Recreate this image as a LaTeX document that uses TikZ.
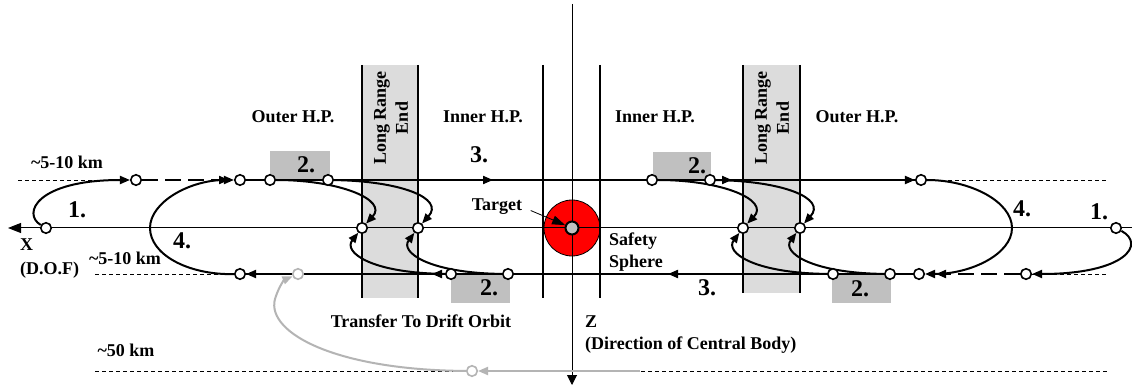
\documentclass[tikz,border=0pt]{standalone}
\usepackage{fontspec}
\setmainfont{Liberation Serif}
\usetikzlibrary{arrows.meta}
\pgfdeclarelayer{back}
\pgfdeclarelayer{mid}
\pgfsetlayers{back,mid,main}
\definecolor{bandgray}{HTML}{DCDCDC}
\definecolor{boxgray}{HTML}{C0C0C0}
\definecolor{driftgray}{HTML}{B4B4B4}
\definecolor{sphered}{HTML}{FF0000}
\begin{document}
\begin{tikzpicture}[x=1pt,y=-1pt,
  lbl/.style={font=\bfseries\fontsize{18}{22}\selectfont, inner sep=0pt, align=center},
  num/.style={font=\bfseries\fontsize{24}{26}\selectfont, inner sep=0pt},
  pt/.style={circle, draw=black, fill=white, line width=1.6pt, minimum size=10.5pt, inner sep=0pt},
  gpt/.style={pt, draw=driftgray},
  orbit/.style={line width=2pt},
  head/.style={-{Triangle[length=10pt,width=8pt]}},
  longdash/.style={orbit, dash pattern=on 16pt off 7pt},
  guide/.style={line width=0.9pt, dash pattern=on 4pt off 3pt},
  axisline/.style={line width=1pt},
  zone/.style={line width=1.2pt},
]
\useasboundingbox (0,0) rectangle (1132,387);

% maneuver points on the upper line
\node[pt] (t1) at (136,180) {};
\node[pt] (t2) at (240,180) {};
\node[pt] (t3) at (270,180) {};
\node[pt] (t4) at (328,180) {};
\node[pt] (t5) at (652,180) {};
\node[pt] (t6) at (710,180) {};
\node[pt] (t7) at (921,180) {};
% points on the X axis
\node[pt] (a1) at (46,228) {};
\node[pt] (a2) at (362,228) {};
\node[pt] (a3) at (418,228) {};
\node[pt] (a4) at (743,228) {};
\node[pt] (a5) at (800,228) {};
\node[pt] (a6) at (1116,228) {};
% points on the lower line
\node[pt] (b1) at (240,274) {};
\node[gpt] (bg) at (298,274) {};
\node[pt] (b2) at (451,274) {};
\node[pt] (b3) at (508,274) {};
\node[pt] (b4) at (833,274) {};
\node[pt] (b5) at (890,274) {};
\node[pt] (b6) at (919,274) {};
\node[pt] (b7) at (1026,274) {};
% drift orbit point
\node[gpt] (g1) at (472,371) {};

% target
\node[circle, draw=black, line width=2pt, minimum size=13pt, inner sep=0pt, fill=boxgray] (target) at (572,228) {};

\begin{pgfonlayer}{back}
  \fill[white] (0,0) rectangle (1132,387);
  % long range end zones
  \fill[bandgray] (362,65) rectangle (418,298);
  \fill[bandgray] (743,65) rectangle (800,293);
  % hold point boxes
  \fill[boxgray] (270,151) rectangle (330,180);
  \fill[boxgray] (451,275) rectangle (510,303);
  \fill[boxgray] (653,152) rectangle (711,180);
  \fill[boxgray] (832,275) rectangle (891,303);
  \node[circle, fill=sphered, draw=black, line width=0.8pt, minimum size=56pt, inner sep=0pt] (sphere) at (572,228) {};
\end{pgfonlayer}

\begin{pgfonlayer}{mid}
  % zone boundaries
  \foreach \x/\b in {362/298, 418/298, 543/298, 600/298, 743/293, 800/293}
    \draw[zone] (\x,65) -- (\x,\b);
  % axes
  \coordinate (xr) at (1132,228);
  \coordinate (xl) at (8,228);
  \draw[axisline, -{Triangle[length=13pt,width=10pt]}] (xr) -- (xl);
  \coordinate (ztop) at (572,4);
  \coordinate (zbot) at (572,385);
  \draw[axisline, -{Triangle[length=10pt,width=10pt]}] (ztop) -- (zbot);
  % altitude guides
  \coordinate (gl1) at (18,180);
  \coordinate (gr1) at (1107,180);
  \coordinate (gl2) at (95,274);
  \coordinate (gr2) at (1107,274);
  \coordinate (gl3) at (95,371);
  \coordinate (gr3) at (1107,371);
  \draw[guide] (gl1) -- (t1);
  \draw[guide] (t7) -- (gr1);
  \draw[guide] (gl2) -- (b1);
  \draw[guide] (b7) -- (gr2);
  \draw[guide] (gl3) -- (gr3);

  % upper line
  \coordinate (m1) at (493,180);
  \coordinate (m2) at (732,180);
  \draw[orbit] (t2) -- (t7);
  \draw[orbit, head] (t4) -- (m1);
  \draw[orbit, head] (t6) -- (m2);
  \draw[orbit, head] (t6) -- (t7);
  \coordinate (m5) at (229,180);
  \draw[longdash, head] (t1) -- (m5);

  % lower line
  \coordinate (m3) at (432,274);
  \coordinate (m4) at (668,274);
  \draw[orbit] (b6) -- (b1);
  \draw[orbit, head] (b2) -- (b1);
  \draw[orbit, head] (b2) -- (m3);
  \draw[orbit, head] (b4) -- (m4);
  \coordinate (m6) at (936,274);
  \draw[longdash, head] (b7) -- (m6);

  % 1. arrivals
  \draw[orbit, head] (a1) .. controls (22,214) and (36,180) .. (t1);
  \draw[orbit, head] (a6) .. controls (1146,244) and (1126,274) .. (b7);

  % 4. loops
  \draw[orbit, head] (b1) .. controls (187,275) and (150,254) .. (150,228)
                          .. controls (150,202) and (190,180) .. (t2);
  \draw[orbit, head] (t7) .. controls (971,180) and (1012,202) .. (1012,228)
                          .. controls (1012,254) and (971,274) .. (b6);

  % 2. hops onto the long range end
  \draw[orbit, head] (t3) .. controls (340,180) and (388,200) .. (a2);
  \draw[orbit, head] (t4) .. controls (400,181) and (445,198) .. (a3);
  \draw[orbit, head] (b2) .. controls (370,273) and (343,252) .. (a2);
  \draw[orbit, head] (b3) .. controls (428,273) and (400,252) .. (a3);
  \draw[orbit, head] (t5) .. controls (722,180) and (770,200) .. (a4);
  \draw[orbit, head] (t6) .. controls (782,181) and (827,198) .. (a5);
  \draw[orbit, head] (b4) .. controls (752,273) and (725,252) .. (a4);
  \draw[orbit, head] (b5) .. controls (810,273) and (782,252) .. (a5);

  % transfer to drift orbit
  \coordinate (gend) at (640,371);
  \draw[orbit, driftgray, head] (gend) -- (g1);
  \draw[orbit, driftgray, head] (g1) .. controls (330,370) and (262,330) .. (276,296)
                                     .. controls (279,287) and (284,280) .. (bg);
\end{pgfonlayer}

% labels
\node[lbl] (ohpl) at (293,117) {Outer H.P.};
\node[lbl] (ihpl) at (483,117) {Inner H.P.};
\node[lbl] (ihpr) at (655,117) {Inner H.P.};
\node[lbl] (ohpr) at (857,117) {Outer H.P.};
\node[lbl, rotate=90] (lrel) at (391,118) {Long Range\\End};
\node[lbl, rotate=90] (lrer) at (772,118) {Long Range\\End};

\node[num] (n2a) at (306,165) {2.};
\node[num] (n2b) at (697,166) {2.};
\node[num] (n2c) at (489,288) {2.};
\node[num] (n2d) at (860,289) {2.};
\node[num] (n3a) at (479,155) {3.};
\node[num] (n3b) at (707,288) {3.};
\node[num] (n1a) at (77,210) {1.};
\node[num] (n1b) at (1099,212) {1.};
\node[num] (n4a) at (182,241) {4.};
\node[num] (n4b) at (1022,209) {4.};

\node[lbl] (km1) at (67,162) {\textasciitilde5-10 km};
\node[lbl] (km2) at (125,258) {\textasciitilde5-10 km};
\node[lbl] (km3) at (126,350) {\textasciitilde50 km};
\node[lbl, anchor=west] (xlab) at (20,245) {X};
\node[lbl, anchor=west] (dof) at (20,270) {(D.O.F)};
\node[lbl] (tlabel) at (497,207) {Target};
\node[lbl, align=left, anchor=west] (safety) at (609,252) {Safety\\Sphere};
\node[lbl] (transfer) at (421,321) {Transfer To Drift Orbit};
\node[lbl, anchor=west] (zlab) at (585,322) {Z};
\node[lbl, anchor=west] (zdir) at (585,345) {(Direction of Central Body)};

\draw[line width=0.8pt, shorten <=9pt, -{Triangle[length=13pt,width=9pt]}] (tlabel.east) -- (target);
\end{tikzpicture}
\end{document}
